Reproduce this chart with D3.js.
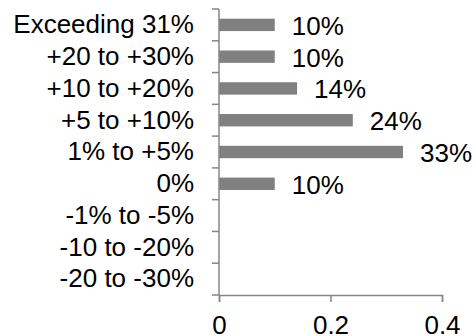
<!DOCTYPE html>
<html>
<head>
<meta charset="utf-8">
<script src="https://cdn.jsdelivr.net/npm/d3@7"></script>
<style>
	body { margin: 0; background: #fff; }
	svg text { font-family: "Liberation Sans", Arial, sans-serif; fill: #000; }
	.axis path, .axis line { stroke: #868686; stroke-width: 1.5; }
</style>
</head>
<body>
<svg width="473" height="336"></svg>
<script>
// categories, top to bottom
var categories = ["Exceeding 31%", "+20 to +30%", "+10 to +20%", "+5 to +10%", "1% to +5%",
	"0%", "-1% to -5%", "-10 to -20%", "-20 to -30%"];
var shares = [0.10, 0.10, 0.14, 0.24, 0.33, 0.10, 0, 0, 0];
var xTicks = [0, 0.2, 0.4];

var svg = d3.select("svg"),
	margin = {top: 9, right: 31, bottom: 41, left: 219},
	width = +svg.attr("width") - margin.left - margin.right,
	height = +svg.attr("height") - margin.top - margin.bottom;

var g = svg.append("g")
	.attr("transform", "translate(" + margin.left + "," + margin.top + ")");

var x = d3.scaleLinear()
	.domain([0, 0.4])
	.range([0, width]);

var y = d3.scaleBand()
	.domain(categories)
	.range([0, height])
	.paddingInner(0.61)
	.paddingOuter(0.305);

// bars
g.selectAll(".bar")
	.data(categories)
	.enter().append("rect")
	.attr("class", "bar")
	.attr("x", x(0))
	.attr("y", function(d) { return y(d); })
	.attr("width", function(d, i) { return x(shares[i]) - x(0); })
	.attr("height", y.bandwidth())
	.attr("fill", "#808080");

// value labels
g.selectAll(".value")
	.data(categories.filter(function(d, i) { return shares[i] > 0; }))
	.enter().append("text")
	.attr("class", "value")
	.attr("x", function(d) { return x(shares[categories.indexOf(d)]) + 17; })
	.attr("y", function(d) { return y(d) + y.bandwidth() / 2; })
	.attr("dy", "0.38em")
	.style("font-size", "26px")
	.text(function(d) { return Math.round(shares[categories.indexOf(d)] * 100) + "%"; });

// x axis
var xAxis = g.append("g")
	.attr("class", "axis axis--x")
	.attr("transform", "translate(0," + height + ")")
	.call(d3.axisBottom(x)
		.tickValues(xTicks)
		.tickSize(7)
		.tickPadding(14)
		.tickFormat(d3.format("")));
xAxis.selectAll("text").style("font-size", "26px").attr("fill", "#000");

// y axis: labels at band centres, ticks at band boundaries
var yAxis = g.append("g")
	.attr("class", "axis axis--y")
	.call(d3.axisLeft(y).tickSize(0).tickPadding(25));
yAxis.select(".domain").remove();
yAxis.selectAll("text").style("font-size", "26px").attr("fill", "#000");

var bounds = d3.range(categories.length + 1).map(function(i) { return i * y.step(); });
yAxis.selectAll(".bound")
	.data(bounds)
	.enter().append("line")
	.attr("class", "bound")
	.attr("x1", -7)
	.attr("x2", 0)
	.attr("y1", function(d) { return d; })
	.attr("y2", function(d) { return d; });
yAxis.append("line")
	.attr("x1", 0).attr("x2", 0)
	.attr("y1", 0).attr("y2", height);
</script>
</body>
</html>
